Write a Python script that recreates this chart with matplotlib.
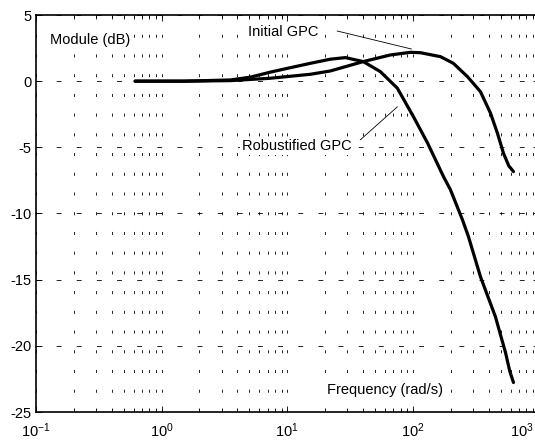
import numpy as np
import matplotlib
matplotlib.use('Agg')
import matplotlib.pyplot as plt

plt.rcParams['font.family'] = ['Liberation Sans', 'DejaVu Sans']
plt.rcParams['lines.scale_dashes'] = False
plt.rcParams['axes.unicode_minus'] = False
plt.rcParams['mathtext.fontset'] = 'custom'
plt.rcParams['mathtext.rm'] = 'Liberation Sans'
plt.rcParams['mathtext.it'] = 'Liberation Sans'
plt.rcParams['mathtext.default'] = 'regular'

# frequency (rad/s) and module (dB)
w_init = [0.615, 1.5, 3.52, 7.32, 15.3, 22.0, 40.3, 66.2, 95.5, 115, 166, 210,
          272, 345, 415, 471, 526, 580, 632]
db_init = [0.0, 0.0, 0.04, 0.22, 0.52, 0.77, 1.48, 1.98, 2.18, 2.15, 1.85,
           1.35, 0.34, -0.79, -2.42, -3.93, -5.44, -6.4, -6.83]

w_rob = [0.615, 1.5, 3.52, 5.07, 7.32, 10.6, 15.3, 22.0, 29.0, 40.3, 55.1,
         75.2, 101, 131, 175, 199, 248, 277, 345, 454, 546, 590, 632]
db_rob = [0.0, 0.0, 0.09, 0.30, 0.68, 1.02, 1.35, 1.66, 1.78, 1.48, 0.72,
          -0.53, -2.68, -4.68, -7.2, -8.2, -10.47, -11.75, -14.77, -17.8,
          -20.5, -21.9, -22.77]

xticks = [0.1, 1, 10, 100, 1000]
xticklabels = ['$10^{-1}$', '$10^{0}$', '$10^{1}$', '$10^{2}$', '$10^{3}$']

fig = plt.figure(figsize=(5.35, 4.4), dpi=100)
ax = fig.add_axes([36 / 535, 28 / 440, 502.5 / 535, 397 / 440])

ax.semilogx(w_init, db_init, color='black', lw=2.3, solid_capstyle='round',
            solid_joinstyle='round', zorder=4)
ax.semilogx(w_rob, db_rob, color='black', lw=2.3, solid_capstyle='round',
            solid_joinstyle='round', zorder=4)

ax.set_xlim(0.1, 1000)
ax.set_ylim(-25, 5)
ax.set_yticks(np.arange(-25, 6, 5))
ax.set_xticks(xticks)
ax.set_xticklabels(xticklabels[:-1] + [''])
# last label pulled left so it stays inside the picture
ax.annotate(xticklabels[-1], xy=(xticks[-1], -25), xytext=(-12, -7),
            textcoords='offset points', fontsize=10.5, ha='center', va='top',
            annotation_clip=False)

# matlab style grid
ax.grid(True, which='major', axis='y', color='black', lw=0.6,
        linestyle=(0, (3.5, 11.0)))
ax.grid(True, which='both', axis='x', color='black', lw=0.6,
        linestyle=(0, (2.2, 12.0)))

ax.tick_params(which='both', direction='in', top=True, right=True,
               labelsize=10.5, length=3, width=0.6)
ax.tick_params(which='major', length=4.5)
ax.tick_params(axis='x', which='major', pad=7)
for s in ax.spines.values():
    s.set_linewidth(1.2)

box = dict(facecolor='white', edgecolor='none', pad=1.5)
ax.text(0.269, 3.11, 'Module (dB)', fontsize=10.5, ha='center', va='center',
        bbox=box, zorder=3)
ax.text(60.4, -23.3, 'Frequency (rad/s)', fontsize=10.5, ha='center',
        va='center', bbox=box, zorder=3)

ax.text(9.29, 3.72, 'Initial GPC', fontsize=10.5, ha='center', va='center',
        bbox=box, zorder=3)
ax.plot([25.0, 97.3], [3.79, 2.43], color='black', lw=0.6, zorder=3)
ax.text(12.0, -4.89, 'Robustified GPC', fontsize=10.5, ha='center',
        va='center', bbox=box, zorder=3)
ax.plot([38.2, 75.2], [-4.43, -1.94], color='black', lw=0.6, zorder=3)

fig.savefig('out.png', dpi=100)
